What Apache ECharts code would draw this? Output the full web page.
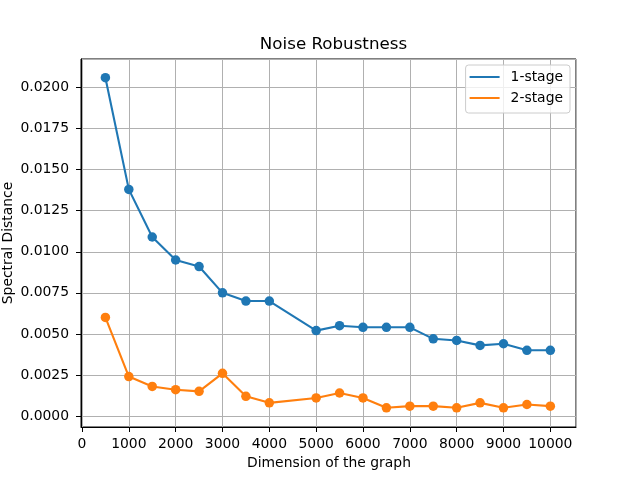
<!DOCTYPE html>
<html>
<head>
<meta charset="utf-8">
<script src="https://cdn.jsdelivr.net/npm/echarts@6/dist/echarts.min.js"></script>
<style>html,body{margin:0;padding:0;background:#fff}#c{width:640px;height:480px}</style>
</head>
<body>
<div id="c"></div>
<script>
const dims1 = [500,1000,1500,2000,2500,3000,3500,4000,5000,5500,6000,6500,7000,7500,8000,8500,9000,9500,10000];
const stage1 = [0.0206,0.0138,0.0109,0.0095,0.0091,0.0075,0.0070,0.0070,0.0052,0.0055,0.0054,0.0054,0.0054,0.0047,0.0046,0.0043,0.0044,0.0040,0.0040];
const stage2 = [0.0060,0.0024,0.0018,0.0016,0.0015,0.0026,0.0012,0.0008,0.0011,0.0014,0.0011,0.0005,0.0006,0.0006,0.0005,0.0008,0.0005,0.0007,0.0006];
const seriesNames = ['1-stage','2-stage'];
const titleText = 'Noise Robustness';
const xName = 'Dimension of the graph';
const yName = 'Spectral Distance';

const FONT = 'DejaVu Sans';
const chart = echarts.init(document.getElementById('c'), null, {renderer:'canvas'});
const pair = (xs, ys) => xs.map((x,i)=>[x, ys[i]]);
const gridLine = {show:true, lineStyle:{color:'#b0b0b0', width:1}};
const XMIN = -21, XMAX = 10548;
chart.setOption({
  animation:false,
  backgroundColor:'#fff',
  title:{text:titleText, left:328.5, textAlign:'center', top:31,
    textStyle:{fontFamily:FONT, fontSize:16.7, fontWeight:'normal', color:'#000'}},
  legend:{
    data:seriesNames.map(n=>({name:n, icon:'rect'})),
    orient:'vertical', right:70, top:65,
    itemWidth:30, itemHeight:2, itemGap:7,
    padding:[5,7,8,4],
    borderColor:'#cccccc', borderWidth:1, borderRadius:3,
    backgroundColor:'rgba(255,255,255,0.8)',
    textStyle:{fontFamily:FONT, fontSize:13.9, color:'#000', padding:[0,0,0,6]}
  },
  grid:[
    {left:81, right:64, top:59, bottom:53, show:true, borderColor:'#000', borderWidth:1,
     backgroundColor:'transparent', containLabel:false, outerBoundsMode:'none'},
    {left:81, right:64, top:59, bottom:64, containLabel:false, outerBoundsMode:'none'},
    {left:82, right:64, top:59, bottom:53, containLabel:false, outerBoundsMode:'none'}
  ],
  xAxis:[
    {type:'value', gridIndex:0, min:XMIN, max:XMAX,
     axisLine:{show:true, onZero:false, lineStyle:{color:'#000', width:1}},
     axisTick:{show:false}, axisLabel:{show:false}, splitLine:{show:false}},
    {type:'value', gridIndex:1, min:0, max:10000, show:false},
    {type:'value', gridIndex:2, min:0, max:XMAX, interval:1000,
     name:xName, nameLocation:'middle', nameGap:28,
     nameTextStyle:{fontFamily:FONT, fontSize:13.9, color:'#000'},
     axisLine:{show:false},
     axisTick:{show:true, inside:false, length:5, lineStyle:{color:'#000'}},
     axisLabel:{fontFamily:FONT, fontSize:13.9, color:'#000', margin:10, showMaxLabel:false,
       formatter:v=>String(v)},
     splitLine:gridLine}
  ],
  yAxis:[
    {type:'value', gridIndex:0, min:-0.00067, max:0.02174,
     name:yName, nameLocation:'middle', nameGap:66,
     nameTextStyle:{fontFamily:FONT, fontSize:13.9, color:'#000'},
     axisLine:{show:true, onZero:false, lineStyle:{color:'#000', width:1}},
     axisTick:{show:false}, axisLabel:{show:false}, splitLine:{show:false}},
    {type:'value', gridIndex:1, min:0, max:0.02174, interval:0.0025,
     axisLine:{show:false},
     axisTick:{show:true, inside:false, length:5, lineStyle:{color:'#000'}},
     axisLabel:{fontFamily:FONT, fontSize:13.9, color:'#000', margin:12, showMaxLabel:false,
       formatter:v=>v.toFixed(4)},
     splitLine:gridLine},
    {type:'value', gridIndex:2, min:0, max:1, show:false}
  ],
  series:[
    {name:seriesNames[0], type:'line', xAxisIndex:0, yAxisIndex:0, data:pair(dims1, stage1),
     symbol:'circle', symbolSize:9.5, color:'#1f77b4', lineStyle:{width:2.1}, itemStyle:{color:'#1f77b4'}},
    {name:seriesNames[1], type:'line', xAxisIndex:0, yAxisIndex:0, data:pair(dims1, stage2),
     symbol:'circle', symbolSize:9.5, color:'#ff7f0e', lineStyle:{width:2.1}, itemStyle:{color:'#ff7f0e'}}
  ]
});
</script>
</body>
</html>
